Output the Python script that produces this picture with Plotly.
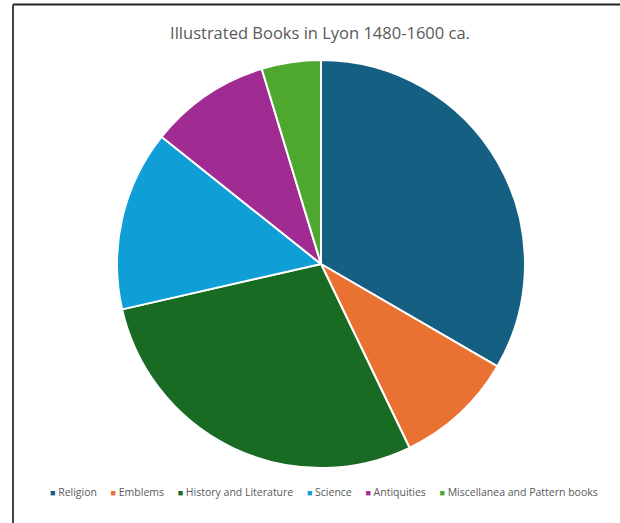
import plotly.graph_objects as go

categories = ["Religion", "Emblems", "History and Literature", "Science",
              "Antiquities", "Miscellanea and Pattern books"]
values = [33.4, 9.5, 28.6, 14.3, 9.6, 4.7]
colors = ["#156082", "#E97132", "#196B24", "#0F9ED5", "#A02B93", "#4EA72E"]

W, H = 620, 523
cx, cy, r = 321, 264, 204

fig = go.Figure(go.Pie(
    labels=categories,
    values=values,
    sort=False,
    direction="clockwise",
    rotation=0,
    textinfo="none",
    hoverinfo="label+percent",
    showlegend=False,
    marker=dict(colors=colors, line=dict(color="white", width=2)),
    domain=dict(x=[(cx - r) / W, (cx + r) / W],
                y=[1 - (cy + r) / H, 1 - (cy - r) / H]),
))

# legend row built from the category names and colours
gap = "\u00a0" * 5
legend_text = gap.join(
    f"<span style='color:{c};font-size:9px'>\u25A0</span>\u00a0{lab}"
    for lab, c in zip(categories, colors)
)

fig.update_layout(
    width=W, height=H,
    margin=dict(l=0, r=0, t=0, b=0, autoexpand=False),
    paper_bgcolor="white",
    font=dict(family="Open Sans, Noto Sans, sans-serif", color="#595959"),
    title=dict(text="Illustrated Books in Lyon 1480-1600 ca.",
               x=320 / W, xanchor="center",
               y=1 - 33 / H, yanchor="middle", yref="container",
               font=dict(size=16.5, color="#595959")),
    annotations=[dict(text=legend_text, showarrow=False,
                      xref="paper", yref="paper",
                      x=324 / W, xanchor="center",
                      y=1 - 492 / H, yanchor="middle",
                      font=dict(size=10.5, color="#595959"))],
    shapes=[
        dict(type="line", xref="paper", yref="paper",
             x0=13 / W, x1=1, y0=1 - 4.5 / H, y1=1 - 4.5 / H,
             line=dict(color="#222222", width=2)),
        dict(type="line", xref="paper", yref="paper",
             x0=13 / W, x1=13 / W, y0=0, y1=1 - 4.5 / H,
             line=dict(color="#444444", width=2)),
    ],
)

fig.write_html("out.html",
               config={"displayModeBar": False},
               post_script="document.body.style.margin='0';"
                           "document.body.style.overflow='hidden';")
